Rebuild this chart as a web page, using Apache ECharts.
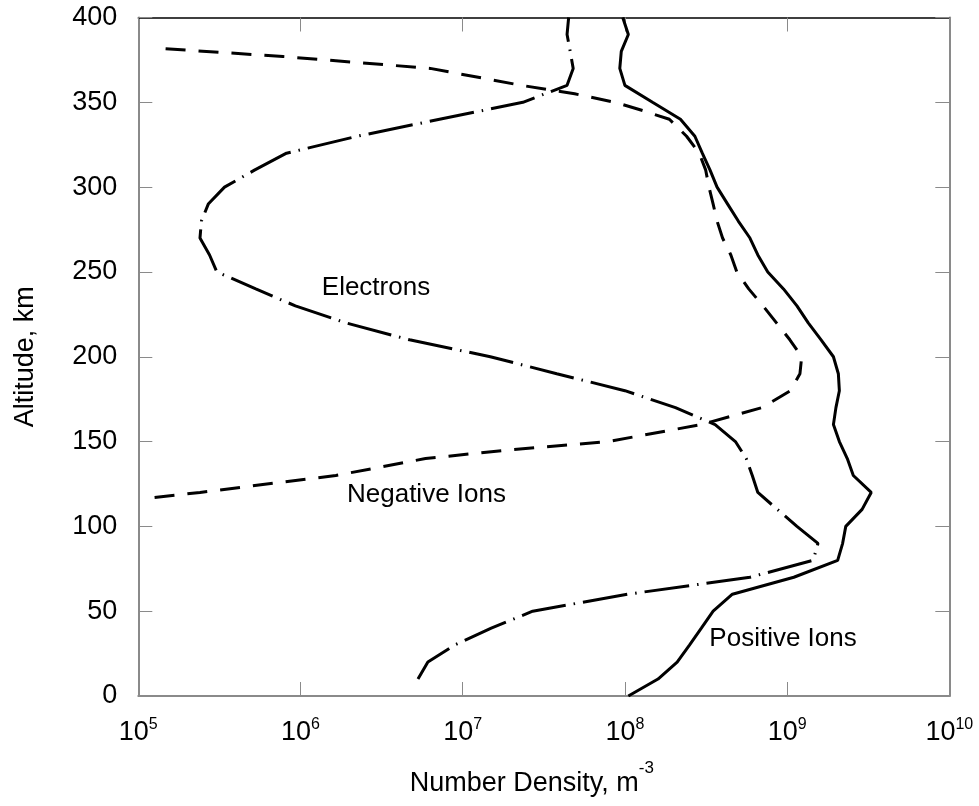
<!DOCTYPE html>
<html>
<head>
<meta charset="utf-8">
<script src="https://cdn.jsdelivr.net/npm/echarts@6/dist/echarts.min.js"></script>
<style>
  html, body { margin: 0; padding: 0; background: #ffffff; }
  #chart { width: 979px; height: 806px; }
</style>
</head>
<body>
<div id="chart"></div>
<script>
// Altitude profiles of charged-particle number density (m^-3)
const posIonAlt = [0, 10, 20, 30, 40, 50, 60, 70, 80, 90, 100, 110, 120, 130, 140, 150, 160, 170, 180, 190,
  200, 210, 220, 230, 240, 250, 260, 270, 280, 290, 300, 310, 320, 330, 340, 350, 360, 370, 380, 390, 400];
const posIonDensity = [1.05e8, 1.6e8, 2.1e8, 2.5e8, 2.96e8, 3.5e8, 4.6e8, 1.1e9, 2.05e9, 2.2e9, 2.3e9, 2.9e9, 3.3e9,
  2.56e9, 2.35e9, 2.1e9, 1.93e9, 2.0e9, 2.1e9, 2.07e9, 1.93e9, 1.62e9, 1.35e9, 1.15e9, 9.5e8, 7.6e8, 6.6e8,
  5.9e8, 5.0e8, 4.3e8, 3.7e8, 3.35e8, 3.0e8, 2.7e8, 2.2e8, 1.48e8, 1.0e8, 9.3e7, 9.5e7, 1.05e8, 9.7e7];

const electronAlt = [10, 20, 30, 40, 50, 60, 70, 80, 90, 100, 110, 120, 130, 140, 150, 160, 170, 180, 190, 200,
  210, 220, 230, 240, 250, 260, 270, 280, 290, 300, 310, 320, 330, 340, 350, 360, 370, 380, 390, 400];
const electronDensity = [5.3e6, 6.1e6, 8.9e6, 1.5e7, 2.7e7, 1.04e8, 5.9e8, 1.45e9, 1.55e9, 1.15e9, 8.7e8, 6.6e8,
  6.1e8, 5.6e8, 4.8e8, 3.6e8, 2.05e8, 1.0e8, 3.8e7, 1.48e7, 4.7e6, 1.9e6, 9.3e5, 5.3e5, 3.05e5, 2.75e5, 2.4e5,
  2.45e5, 2.7e5, 3.4e5, 5.2e5, 8.2e5, 2.24e6, 7.2e6, 2.35e7, 4.4e7, 4.8e7, 4.6e7, 4.4e7, 4.5e7];

const negIonAlt = [117, 120, 130, 140, 145, 150, 160, 170, 180, 190, 200, 210, 220, 230, 240, 250, 260, 270, 280,
  290, 300, 310, 320, 330, 340, 345, 350, 355, 360, 370, 377, 382];
const negIonDensity = [1.26e5, 2.4e5, 1.65e6, 5.9e6, 1.9e7, 7.9e7, 2.95e8, 7.0e8, 1.05e9, 1.2e9, 1.23e9, 1.04e9,
  8.6e8, 7.1e8, 5.8e8, 4.9e8, 4.5e8, 4.0e8, 3.7e8, 3.5e8, 3.3e8, 3.15e8, 2.87e8, 2.4e8, 1.88e8, 1.3e8, 8.7e7,
  4.9e7, 2.3e7, 6.3e6, 7.8e5, 1.26e5];

// Curve annotations
const labelNames = ['Electrons', 'Negative Ions', 'Positive Ions'];
const labelDensity = [2.92e6, 5.98e6, 9.44e8];
const labelAlt = [240.5, 118.5, 33.6];

// Axis setup
const densityMin = 1e5, densityMax = 1e10;
const altMin = 0, altMax = 400, altStep = 50;

const FONT = '"Liberation Sans", Arial, Helvetica, sans-serif';

function pairs(dens, alt) {
  return dens.map(function (d, i) { return [d, alt[i]]; });
}

const frameGrey = '#8a8a8a';

const chart = echarts.init(document.getElementById('chart'), null, { renderer: 'canvas' });

chart.setOption({
  animation: false,
  backgroundColor: '#ffffff',
  grid: { left: 138.3, right: 29.7, top: 17.5, bottom: 110, containLabel: false },
  xAxis: [
    {
      type: 'log', logBase: 10, min: densityMin, max: densityMax, splitNumber: 5,
      position: 'bottom',
      axisLine: { show: true, onZero: false, lineStyle: { color: frameGrey, width: 2 } },
      axisTick: { show: true, inside: true, length: 14, lineStyle: { color: frameGrey, width: 1 } },
      splitLine: { show: false },
      minorTick: { show: false },
      axisLabel: {
        margin: 21,
        formatter: function (v) { return '{b|10}{s|' + Math.round(Math.log10(v)) + '}'; },
        rich: {
          b: { fontSize: 27, fontFamily: FONT, color: '#000', lineHeight: 29.5, verticalAlign: 'bottom' },
          s: { fontSize: 16, fontFamily: FONT, color: '#000', lineHeight: 16, verticalAlign: 'top' }
        }
      },
      name: '{b|Number Density, m}{s|-3}',
      nameLocation: 'middle',
      nameGap: 64,
      nameTextStyle: {
        padding: [0, 24, 0, 0],
        rich: {
          b: { fontSize: 27, fontFamily: FONT, color: '#000', lineHeight: 37, verticalAlign: 'bottom' },
          s: { fontSize: 17, fontFamily: FONT, color: '#000', lineHeight: 17, verticalAlign: 'top' }
        }
      }
    },
    {
      type: 'log', logBase: 10, min: densityMin, max: densityMax, splitNumber: 5,
      position: 'top',
      axisLine: { show: true, onZero: false, lineStyle: { color: '#000', width: 1.5 } },
      axisTick: { show: true, inside: true, length: 14, lineStyle: { color: frameGrey, width: 1 } },
      axisLabel: { show: false },
      splitLine: { show: false }
    }
  ],
  yAxis: [
    {
      type: 'value', min: altMin, max: altMax, interval: altStep,
      position: 'left',
      axisLine: { show: true, onZero: false, lineStyle: { color: frameGrey, width: 2 } },
      axisTick: { show: true, inside: true, length: 14, lineStyle: { color: frameGrey, width: 1 } },
      splitLine: { show: false },
      axisLabel: { margin: 21, fontSize: 27, fontFamily: FONT, color: '#000' },
      name: 'Altitude, km',
      nameLocation: 'middle',
      nameRotate: 90,
      nameGap: 99,
      nameTextStyle: { fontSize: 27, fontFamily: FONT, color: '#000' }
    },
    {
      type: 'value', min: altMin, max: altMax, interval: altStep,
      position: 'right',
      axisLine: { show: true, onZero: false, lineStyle: { color: frameGrey, width: 2 } },
      axisTick: { show: true, inside: true, length: 14, lineStyle: { color: frameGrey, width: 1 } },
      splitLine: { show: false },
      axisLabel: { show: false }
    }
  ],
  series: [
    {
      name: 'Positive Ions', type: 'line', xAxisIndex: 0, yAxisIndex: 0,
      data: pairs(posIonDensity, posIonAlt),
      symbol: 'none', showSymbol: false, smooth: false,
      lineStyle: { color: '#000', width: 3, type: 'solid' }
    },
    {
      name: 'Electrons', type: 'line', xAxisIndex: 0, yAxisIndex: 0,
      data: pairs(electronDensity, electronAlt),
      symbol: 'none', showSymbol: false, smooth: false,
      lineStyle: { color: '#000', width: 3, type: [45, 8, 1.5, 8] }
    },
    {
      name: 'Negative Ions', type: 'line', xAxisIndex: 0, yAxisIndex: 0,
      data: pairs(negIonDensity, negIonAlt),
      symbol: 'none', showSymbol: false, smooth: false,
      lineStyle: { color: '#000', width: 3, type: [20, 13] }
    },
    {
      name: 'labels', type: 'scatter', xAxisIndex: 0, yAxisIndex: 0,
      symbolSize: 0,
      itemStyle: { color: '#000000', opacity: 1 },
      data: labelNames.map(function (n, i) { return { name: n, value: [labelDensity[i], labelAlt[i]] }; }),
      label: {
        show: true, position: 'inside', formatter: '{b}',
        fontSize: 26, fontFamily: FONT, color: '#000000', opacity: 1,
        textBorderWidth: 0
      },
      emphasis: { disabled: true },
      silent: true
    }
  ]
});
</script>
</body>
</html>
